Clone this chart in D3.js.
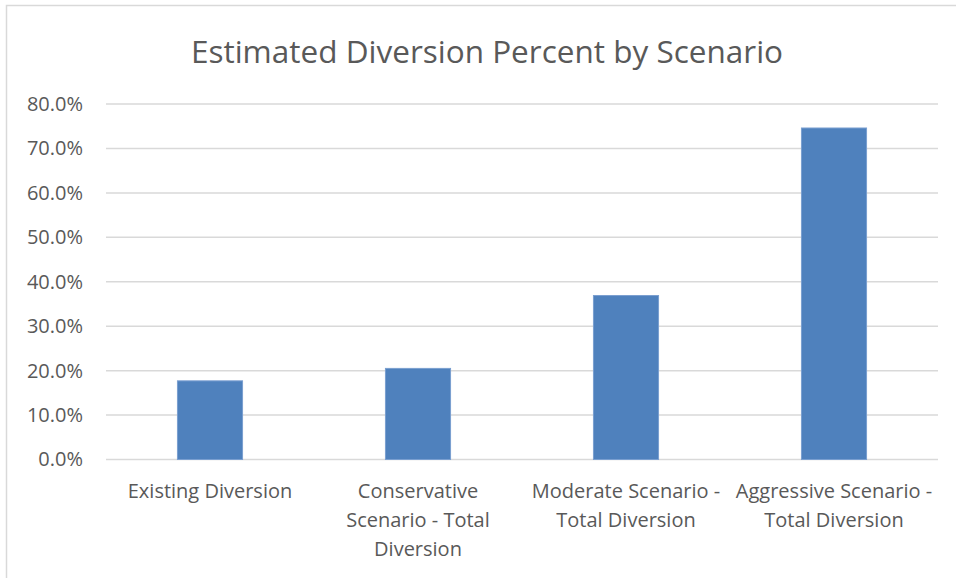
<!DOCTYPE html>
<html>
<head>
<meta charset="utf-8">
<script src="https://cdn.jsdelivr.net/npm/d3@7"></script>
<style>
  body { margin: 0; background: #fff; }
  svg text { font-family: "Open Sans", "Noto Sans", sans-serif; fill: #595959; }
</style>
</head>
<body>
<svg id="chart" width="956" height="578"></svg>
<script>
const title = "Estimated Diversion Percent by Scenario";
const categories = [
  ["Existing Diversion"],
  ["Conservative", "Scenario - Total", "Diversion"],
  ["Moderate Scenario -", "Total Diversion"],
  ["Aggressive Scenario -", "Total Diversion"]
];
const values = [0.177, 0.205, 0.369, 0.746];
const yTicks = [0, 0.1, 0.2, 0.3, 0.4, 0.5, 0.6, 0.7, 0.8];

const svg = d3.select("#chart");
const W = 956, H = 578;
const m = { left: 106, right: W - 938, top: 104, bottom: H - 459.5 };

// chart border
svg.append("rect")
  .attr("x", 6.5).attr("y", 5.5)
  .attr("width", W + 10).attr("height", H + 10)
  .attr("fill", "none").attr("stroke", "#d9d9d9").attr("stroke-width", 1.5);

svg.append("text")
  .attr("x", 487).attr("y", 63)
  .attr("text-anchor", "middle")
  .attr("font-size", 31.5)
  .text(title);

const x = d3.scaleBand()
  .domain(d3.range(categories.length))
  .range([m.left, W - m.right])
  .paddingInner(0.687).paddingOuter(0.3435);

const y = d3.scaleLinear().domain([0, 0.8]).range([H - m.bottom, m.top]);

// gridlines
svg.append("g").selectAll("line").data(yTicks).join("line")
  .attr("x1", m.left).attr("x2", W - m.right)
  .attr("y1", d => y(d)).attr("y2", d => y(d))
  .attr("stroke", "#d9d9d9").attr("stroke-width", 1.5);

// y axis labels
const yAxis = d3.axisLeft(y).tickValues(yTicks).tickFormat(d3.format(".1%")).tickSize(0).tickPadding(0);
const yg = svg.append("g").attr("transform", `translate(83,0)`).call(yAxis);
yg.select(".domain").remove();
yg.selectAll("text").attr("font-size", 20).attr("fill", "#595959")
  .style("font-family", "'Open Sans', sans-serif");

// bars
svg.append("g").selectAll("rect").data(values).join("rect")
  .attr("x", (d, i) => x(i))
  .attr("width", x.bandwidth())
  .attr("y", d => y(d))
  .attr("height", d => y(0) - y(d))
  .attr("fill", "#4f81bd")
  .attr("stroke", "#7a9fd0").attr("stroke-width", 1);

// category labels
const xl = svg.append("g").selectAll("text").data(categories).join("text")
  .attr("text-anchor", "middle")
  .attr("font-size", 20)
  .attr("x", (d, i) => x(i) + x.bandwidth() / 2)
  .attr("y", 498);
xl.selectAll("tspan").data(d => d).join("tspan")
  .attr("x", function () { return d3.select(this.parentNode).attr("x"); })
  .attr("dy", (d, i) => i === 0 ? 0 : 29)
  .text(d => d);
</script>
</body>
</html>
